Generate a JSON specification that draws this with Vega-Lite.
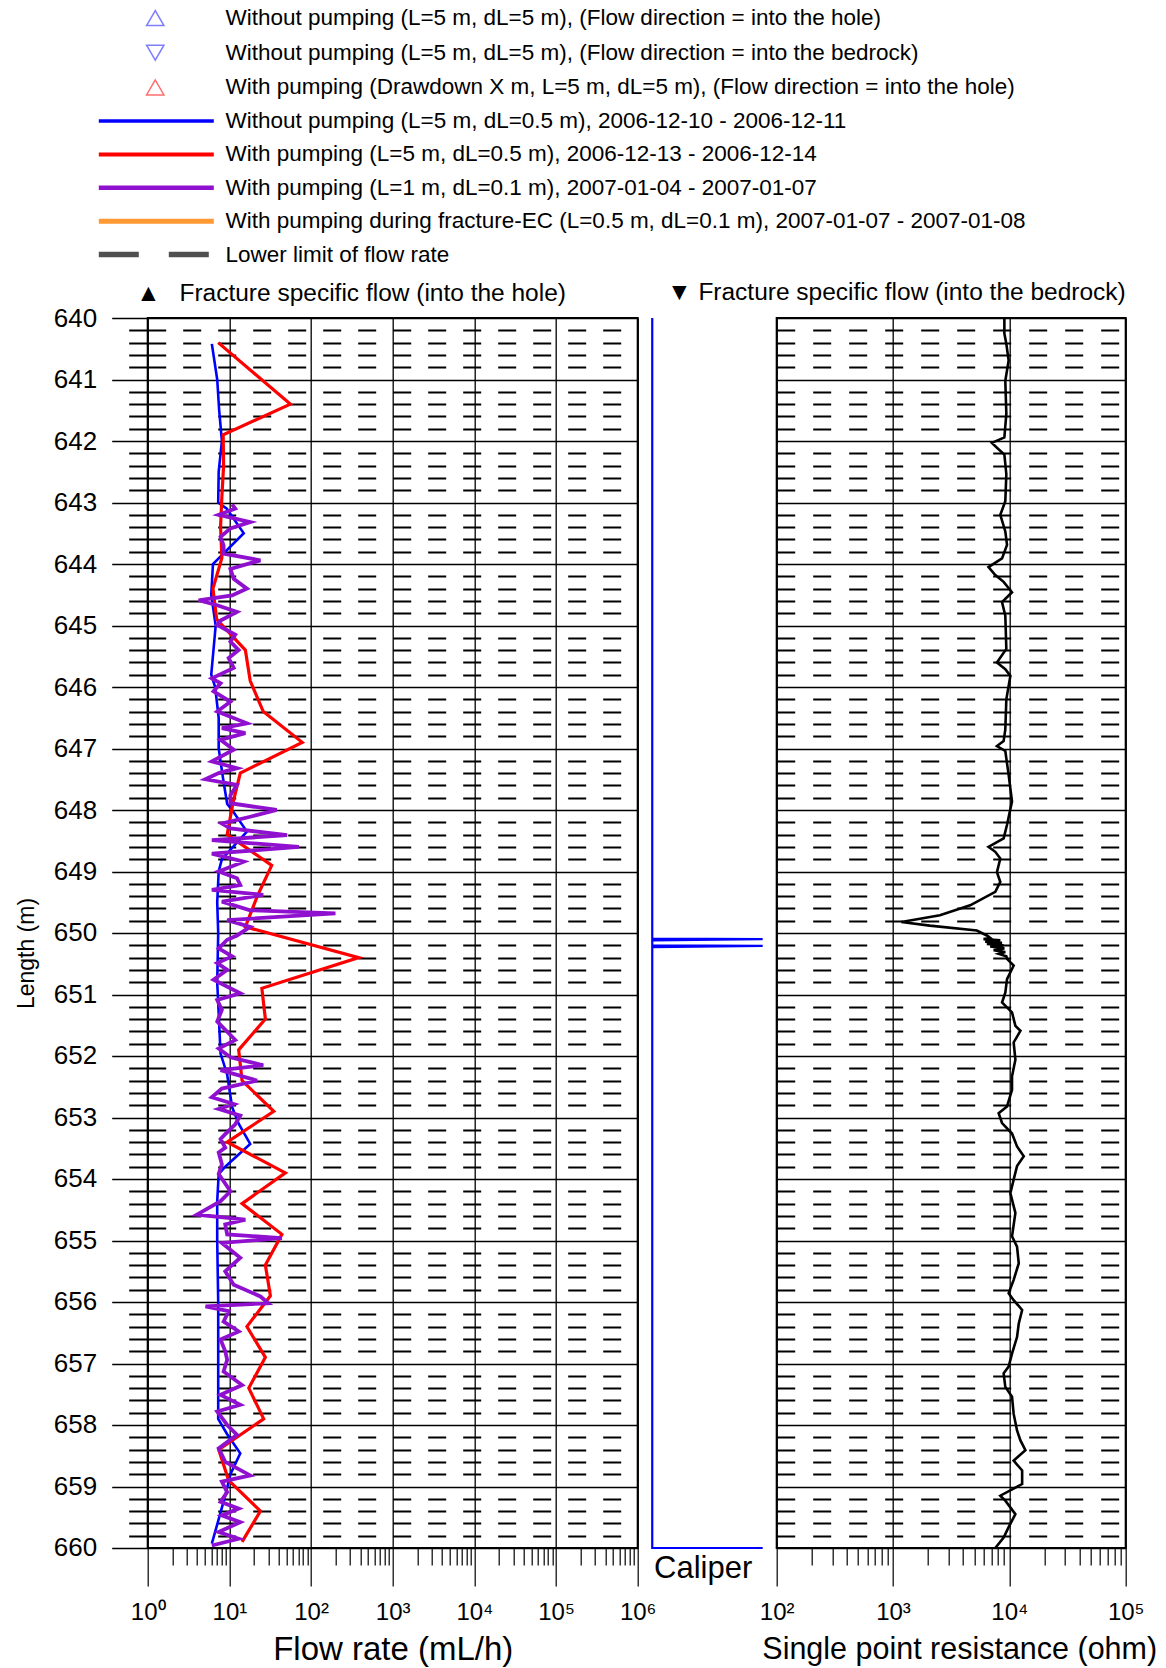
{
"$schema": "https://vega.github.io/schema/vega-lite/v6.json",
"background": "white",
"padding": {"left": 13.7, "top": 7, "right": 5, "bottom": 5},
"config": {"font": "Liberation Sans", "view": {"stroke": "black", "strokeWidth": 2}, "axis": {"labelColor": "black", "titleColor": "black", "tickColor": "black", "domainColor": "black"}, "title": {"color": "black"}},
"datasets": {
"flow": [
{"s":"np","d":640.42,"v":6.1},{"s":"np","d":641.0,"v":7.1},{"s":"np","d":641.5,"v":7.5},{"s":"np","d":642.0,"v":8.1},{"s":"np","d":642.5,"v":7.4},{"s":"np","d":643.0,"v":7.3},{"s":"np","d":643.1,"v":9.3},{"s":"np","d":643.5,"v":15},{"s":"np","d":644.0,"v":6.3},{"s":"np","d":644.5,"v":6.0},{"s":"np","d":645.0,"v":6.8},{"s":"np","d":645.8,"v":6.0},{"s":"np","d":646.0,"v":6.7},{"s":"np","d":646.5,"v":7.4},{"s":"np","d":647.0,"v":7.4},{"s":"np","d":647.5,"v":8.4},{"s":"np","d":647.9,"v":9.4},{"s":"np","d":648.0,"v":10.8},{"s":"np","d":648.35,"v":16.4},{"s":"np","d":648.8,"v":8.1},{"s":"np","d":649.0,"v":7.4},{"s":"np","d":649.5,"v":7.1},{"s":"np","d":650.0,"v":7.3},{"s":"np","d":650.8,"v":7.1},{"s":"np","d":651.96,"v":7.8},{"s":"np","d":652.3,"v":9.4},{"s":"np","d":652.83,"v":10.8},{"s":"np","d":653.1,"v":13},{"s":"np","d":653.43,"v":18},{"s":"np","d":653.8,"v":8.9},{"s":"np","d":653.92,"v":7.4},{"s":"np","d":654.36,"v":7.1},{"s":"np","d":655.0,"v":7.1},{"s":"np","d":656.0,"v":7.3},{"s":"np","d":657.9,"v":7.3},{"s":"np","d":658.15,"v":9.4},{"s":"np","d":658.46,"v":13.6},{"s":"np","d":658.8,"v":10.3},{"s":"np","d":659.15,"v":8.9},{"s":"np","d":659.93,"v":6.1},
{"s":"wp","d":640.4,"v":7.3},{"s":"wp","d":641.4,"v":55.8},{"s":"wp","d":641.9,"v":8.4},{"s":"wp","d":642.4,"v":8.5},{"s":"wp","d":642.9,"v":8.1},{"s":"wp","d":643.4,"v":7.8},{"s":"wp","d":643.9,"v":8.1},{"s":"wp","d":644.4,"v":6.3},{"s":"wp","d":644.9,"v":7.0},{"s":"wp","d":645.4,"v":15.7},{"s":"wp","d":645.9,"v":18},{"s":"wp","d":646.4,"v":26},{"s":"wp","d":646.9,"v":78},{"s":"wp","d":647.4,"v":13.6},{"s":"wp","d":647.9,"v":11},{"s":"wp","d":648.4,"v":9.4},{"s":"wp","d":648.9,"v":33},{"s":"wp","d":649.4,"v":22},{"s":"wp","d":649.9,"v":15.7},{"s":"wp","d":650.4,"v":384},{"s":"wp","d":650.9,"v":25},{"s":"wp","d":651.4,"v":27.6},{"s":"wp","d":651.9,"v":13},{"s":"wp","d":652.4,"v":14.3},{"s":"wp","d":652.9,"v":35},{"s":"wp","d":653.4,"v":9.4},{"s":"wp","d":653.9,"v":48.5},{"s":"wp","d":654.4,"v":14.3},{"s":"wp","d":654.9,"v":44},{"s":"wp","d":655.4,"v":27.6},{"s":"wp","d":655.9,"v":31.8},{"s":"wp","d":656.4,"v":16.4},{"s":"wp","d":656.9,"v":27.6},{"s":"wp","d":657.4,"v":17.3},{"s":"wp","d":657.9,"v":26.3},{"s":"wp","d":658.4,"v":7.4},{"s":"wp","d":658.9,"v":9.8},{"s":"wp","d":659.4,"v":24},{"s":"wp","d":659.9,"v":14.3},
{"s":"wp1","d":643.03,"v":10.8},{"s":"wp1","d":643.1,"v":11.8},{"s":"wp1","d":643.2,"v":7.4},{"s":"wp1","d":643.32,"v":18},{"s":"wp1","d":643.42,"v":10.3},{"s":"wp1","d":643.56,"v":7.8},{"s":"wp1","d":643.7,"v":8.5},{"s":"wp1","d":643.83,"v":8.5},{"s":"wp1","d":643.94,"v":24},{"s":"wp1","d":644.08,"v":10.3},{"s":"wp1","d":644.24,"v":11.3},{"s":"wp1","d":644.4,"v":16.4},{"s":"wp1","d":644.51,"v":10.8},{"s":"wp1","d":644.59,"v":4.2},{"s":"wp1","d":644.67,"v":7.1},{"s":"wp1","d":644.78,"v":12.4},{"s":"wp1","d":644.92,"v":7.8},{"s":"wp1","d":644.99,"v":7.1},{"s":"wp1","d":645.15,"v":11.8},{"s":"wp1","d":645.26,"v":10.3},{"s":"wp1","d":645.4,"v":13},{"s":"wp1","d":645.53,"v":9.8},{"s":"wp1","d":645.69,"v":11.3},{"s":"wp1","d":645.86,"v":6.1},{"s":"wp1","d":645.94,"v":7.8},{"s":"wp1","d":646.07,"v":6.4},{"s":"wp1","d":646.24,"v":10.3},{"s":"wp1","d":646.4,"v":7.1},{"s":"wp1","d":646.59,"v":16.4},{"s":"wp1","d":646.67,"v":8.1},{"s":"wp1","d":646.75,"v":15.7},{"s":"wp1","d":646.86,"v":7.8},{"s":"wp1","d":647.02,"v":11.3},{"s":"wp1","d":647.21,"v":6.1},{"s":"wp1","d":647.32,"v":12.4},{"s":"wp1","d":647.4,"v":7.4},{"s":"wp1","d":647.5,"v":5.1},{"s":"wp1","d":647.59,"v":12.4},{"s":"wp1","d":647.76,"v":10.3},{"s":"wp1","d":647.89,"v":10.3},{"s":"wp1","d":648.0,"v":38},{"s":"wp1","d":648.11,"v":18},{"s":"wp1","d":648.22,"v":8.1},{"s":"wp1","d":648.3,"v":10.3},{"s":"wp1","d":648.41,"v":51},{"s":"wp1","d":648.49,"v":6.1},{"s":"wp1","d":648.6,"v":71},{"s":"wp1","d":648.71,"v":6.1},{"s":"wp1","d":648.84,"v":15},{"s":"wp1","d":649.0,"v":7.4},{"s":"wp1","d":649.11,"v":12.4},{"s":"wp1","d":649.22,"v":13.6},{"s":"wp1","d":649.3,"v":6.1},{"s":"wp1","d":649.38,"v":26},{"s":"wp1","d":649.49,"v":8.1},{"s":"wp1","d":649.63,"v":18},{"s":"wp1","d":649.68,"v":199},{"s":"wp1","d":649.79,"v":9.4},{"s":"wp1","d":649.9,"v":18},{"s":"wp1","d":650.04,"v":12.4},{"s":"wp1","d":650.11,"v":9.4},{"s":"wp1","d":650.25,"v":7.4},{"s":"wp1","d":650.38,"v":10.8},{"s":"wp1","d":650.49,"v":7.1},{"s":"wp1","d":650.6,"v":9.4},{"s":"wp1","d":650.76,"v":6.4},{"s":"wp1","d":650.98,"v":13.6},{"s":"wp1","d":651.09,"v":7.1},{"s":"wp1","d":651.25,"v":8.1},{"s":"wp1","d":651.44,"v":7.1},{"s":"wp1","d":651.74,"v":11.8},{"s":"wp1","d":651.88,"v":7.4},{"s":"wp1","d":652.02,"v":10.3},{"s":"wp1","d":652.15,"v":26},{"s":"wp1","d":652.23,"v":7.8},{"s":"wp1","d":652.4,"v":21.8},{"s":"wp1","d":652.53,"v":8.1},{"s":"wp1","d":652.67,"v":6.1},{"s":"wp1","d":652.78,"v":11.3},{"s":"wp1","d":652.86,"v":7.4},{"s":"wp1","d":652.97,"v":13.6},{"s":"wp1","d":653.11,"v":11.8},{"s":"wp1","d":653.27,"v":8.9},{"s":"wp1","d":653.35,"v":7.8},{"s":"wp1","d":653.49,"v":8.9},{"s":"wp1","d":653.57,"v":7.4},{"s":"wp1","d":653.76,"v":8.1},{"s":"wp1","d":653.92,"v":7.4},{"s":"wp1","d":654.2,"v":10.3},{"s":"wp1","d":654.36,"v":7.8},{"s":"wp1","d":654.58,"v":4.0},{"s":"wp1","d":654.66,"v":15.7},{"s":"wp1","d":654.74,"v":8.9},{"s":"wp1","d":654.9,"v":9.4},{"s":"wp1","d":654.96,"v":44},{"s":"wp1","d":655.04,"v":8.1},{"s":"wp1","d":655.28,"v":13.6},{"s":"wp1","d":655.5,"v":8.9},{"s":"wp1","d":655.72,"v":11.3},{"s":"wp1","d":655.91,"v":24},{"s":"wp1","d":656.02,"v":30},{"s":"wp1","d":656.07,"v":5.1},{"s":"wp1","d":656.15,"v":9.8},{"s":"wp1","d":656.32,"v":8.5},{"s":"wp1","d":656.48,"v":13},{"s":"wp1","d":656.61,"v":7.8},{"s":"wp1","d":656.8,"v":8.9},{"s":"wp1","d":656.94,"v":9.4},{"s":"wp1","d":657.13,"v":8.5},{"s":"wp1","d":657.35,"v":14.3},{"s":"wp1","d":657.51,"v":7.8},{"s":"wp1","d":657.67,"v":13.6},{"s":"wp1","d":657.78,"v":7.1},{"s":"wp1","d":658.0,"v":9.4},{"s":"wp1","d":658.16,"v":12.4},{"s":"wp1","d":658.38,"v":7.4},{"s":"wp1","d":658.6,"v":8.9},{"s":"wp1","d":658.82,"v":18},{"s":"wp1","d":658.92,"v":8.1},{"s":"wp1","d":659.09,"v":9.4},{"s":"wp1","d":659.25,"v":7.8},{"s":"wp1","d":659.36,"v":13},{"s":"wp1","d":659.47,"v":8.1},{"s":"wp1","d":659.58,"v":13.6},{"s":"wp1","d":659.74,"v":7.4},{"s":"wp1","d":659.85,"v":13},{"s":"wp1","d":659.96,"v":6.1}
],
"caliper": [
{"i":1,"d":640.0,"c":0.005},{"i":2,"d":650.09,"c":0.005},{"i":3,"d":650.1,"c":1},{"i":4,"d":650.12,"c":0.005},{"i":5,"d":650.2,"c":0.005},{"i":6,"d":650.21,"c":1},{"i":7,"d":650.23,"c":0.005},{"i":8,"d":660.0,"c":0.005},{"i":9,"d":660.0,"c":1}
],
"spr": [
{"d":640.01,"r":9060},{"d":640.25,"r":9060},{"d":640.42,"r":9420},{"d":640.69,"r":9860},{"d":641.02,"r":9230},{"d":641.56,"r":9420},{"d":641.94,"r":9060},{"d":642.03,"r":7080},{"d":642.11,"r":7820},{"d":642.22,"r":9060},{"d":642.54,"r":9420},{"d":642.98,"r":9230},{"d":643.2,"r":8360},{"d":643.47,"r":9230},{"d":643.69,"r":9550},{"d":643.91,"r":8650},{"d":644.05,"r":6620},{"d":644.18,"r":7570},{"d":644.29,"r":8930},{"d":644.46,"r":10540},{"d":644.62,"r":8650},{"d":644.84,"r":9230},{"d":645.38,"r":9420},{"d":645.6,"r":7820},{"d":645.71,"r":9230},{"d":645.82,"r":10200},{"d":646.2,"r":9420},{"d":646.69,"r":9230},{"d":646.88,"r":8930},{"d":646.96,"r":7820},{"d":647.04,"r":9230},{"d":647.43,"r":9860},{"d":647.86,"r":10540},{"d":648.24,"r":9550},{"d":648.46,"r":8930},{"d":648.6,"r":6620},{"d":648.68,"r":7570},{"d":648.79,"r":8360},{"d":649.01,"r":7820},{"d":649.17,"r":8360},{"d":649.33,"r":7570},{"d":649.55,"r":4600},{"d":649.71,"r":2530},{"d":649.82,"r":1180},{"d":649.88,"r":2070},{"d":649.96,"r":5250},{"d":650.04,"r":6410},{"d":650.08,"r":6850},{"d":650.1,"r":6000},{"d":650.12,"r":8360},{"d":650.14,"r":6200},{"d":650.16,"r":8650},{"d":650.18,"r":6410},{"d":650.2,"r":8930},{"d":650.22,"r":6850},{"d":650.25,"r":9060},{"d":650.28,"r":7320},{"d":650.31,"r":9230},{"d":650.34,"r":8100},{"d":650.38,"r":9420},{"d":650.42,"r":9550},{"d":650.53,"r":10890},{"d":650.75,"r":9550},{"d":650.97,"r":9230},{"d":651.13,"r":8650},{"d":651.29,"r":10540},{"d":651.51,"r":11270},{"d":651.59,"r":12450},{"d":651.78,"r":10890},{"d":652.06,"r":11270},{"d":652.33,"r":10540},{"d":652.55,"r":10540},{"d":652.82,"r":9550},{"d":652.93,"r":8090},{"d":653.09,"r":8650},{"d":653.26,"r":10540},{"d":653.47,"r":11640},{"d":653.63,"r":13300},{"d":653.79,"r":11640},{"d":654.01,"r":10890},{"d":654.23,"r":10200},{"d":654.55,"r":11270},{"d":654.93,"r":10540},{"d":655.1,"r":11640},{"d":655.37,"r":12050},{"d":655.64,"r":10890},{"d":655.86,"r":9860},{"d":655.97,"r":10890},{"d":656.13,"r":12880},{"d":656.35,"r":12050},{"d":656.57,"r":11640},{"d":656.84,"r":10540},{"d":657.05,"r":9860},{"d":657.16,"r":8930},{"d":657.38,"r":9230},{"d":657.54,"r":10540},{"d":657.82,"r":10890},{"d":658.09,"r":11640},{"d":658.25,"r":12450},{"d":658.41,"r":13740},{"d":658.58,"r":10890},{"d":658.74,"r":12880},{"d":658.96,"r":12880},{"d":659.15,"r":8360},{"d":659.23,"r":9230},{"d":659.45,"r":11270},{"d":659.66,"r":9860},{"d":659.83,"r":8930},{"d":660.0,"r":7570}
]
},
"bounds": "flush",
"spacing": 14,
"resolve": {"scale": {"stroke": "independent", "strokeWidth": "independent", "strokeDash": "independent", "color": "independent", "shape": "independent"}},
"hconcat": [
{
"width": 490, "height": 1230,
"title": {"text": "▲\u2002 Fracture specific flow (into the hole)", "anchor": "start", "frame": "group", "fontSize": 24.5, "fontWeight": "normal", "dx": -11.5, "offset": -1.5},
"resolve": {"axis": {"x": "independent"}},
"layer": [
{
"data": {"name": "flow"},
"mark": {"type": "line", "clip": true},
"encoding": {
"y": {"field": "d", "type": "quantitative", "scale": {"domain": [640, 660], "reverse": true, "nice": false, "zero": false},
"axis": {"values": [640,640.2,640.4,640.6,640.8,641,641.2,641.4,641.6,641.8,642,642.2,642.4,642.6,642.8,643,643.2,643.4,643.6,643.8,644,644.2,644.4,644.6,644.8,645,645.2,645.4,645.6,645.8,646,646.2,646.4,646.6,646.8,647,647.2,647.4,647.6,647.8,648,648.2,648.4,648.6,648.8,649,649.2,649.4,649.6,649.8,650,650.2,650.4,650.6,650.8,651,651.2,651.4,651.6,651.8,652,652.2,652.4,652.6,652.8,653,653.2,653.4,653.6,653.8,654,654.2,654.4,654.6,654.8,655,655.2,655.4,655.6,655.8,656,656.2,656.4,656.6,656.8,657,657.2,657.4,657.6,657.8,658,658.2,658.4,658.6,658.8,659,659.2,659.4,659.6,659.8,660],
"labelExpr": "datum.value % 1 == 0 ? format(datum.value, 'd') : ''",
"labelOverlap": false, "labelFontSize": 26, "labelPadding": 15,
"tickSize": {"condition": {"test": "datum.value % 1 == 0", "value": 36}, "value": 19},
"tickWidth": {"condition": {"test": "datum.value % 1 == 0", "value": 1.3}, "value": 2},
"grid": true, "gridColor": "black",
"gridDash": {"condition": {"test": "datum.value % 1 == 0", "value": [1, 0]}, "value": [18, 17]},
"gridWidth": {"condition": {"test": "datum.value % 1 == 0", "value": 1.3}, "value": 2},
"domain": false,
"title": "Length (m)", "titleFontSize": 23, "titleFontWeight": "normal", "titlePadding": 15, "titleY": 635}},
"x": {"field": "v", "type": "quantitative", "scale": {"type": "log", "domain": [1, 1000000], "nice": false},
"axis": {"orient": "bottom", "values": [1,2,3,4,5,6,7,8,9,10,20,30,40,50,60,70,80,90,100,200,300,400,500,600,700,800,900,1000,2000,3000,4000,5000,6000,7000,8000,9000,10000,20000,30000,40000,50000,60000,70000,80000,90000,100000,200000,300000,400000,500000,600000,700000,800000,900000,1000000],
"labelExpr": "abs(log(datum.value)/LN10 - round(log(datum.value)/LN10)) < 0.001 ? '10' + ['⁰','¹','²','³','⁴','⁵','⁶'][round(log(datum.value)/LN10)] : ''",
"labelFlush": false, "labelOverlap": false, "labelFontSize": 24, "labelPadding": 15,
"tickSize": {"condition": {"test": "abs(log(datum.value)/LN10 - round(log(datum.value)/LN10)) < 0.001", "value": 38}, "value": 17},
"tickWidth": 1.2,
"grid": false,
"domain": false,
"title": "Flow rate (mL/h)", "titleFontSize": 33, "titleFontWeight": "normal", "titlePadding": 9}},
"order": {"field": "d", "type": "quantitative"},
"stroke": {"field": "s", "type": "nominal", "scale": {"domain": ["np", "wp", "wp1"], "range": ["#0000ff", "#ff0000", "#9010d0"]}, "legend": null},
"strokeWidth": {"field": "s", "type": "nominal", "scale": {"type": "point", "domain": ["np", "wp", "wp1"], "range": [2.6, 3.8], "padding": 0}, "legend": null}
}
},
{
"data": {"name": "flow"},
"transform": [{"filter": "false"}],
"mark": {"type": "line"},
"encoding": {
"x": {"field": "v", "type": "quantitative",
"axis": {"orient": "bottom", "values": [1, 10, 100, 1000, 10000, 100000, 1000000], "grid": true, "gridColor": "black", "gridWidth": 1.3, "ticks": false, "labels": false, "domain": false, "title": null}}
}
}
]
},
{
"width": 111, "height": 1230,
"view": {"stroke": null},
"layer": [
{
"data": {"name": "caliper"},
"mark": {"type": "line", "color": "#0000ff", "strokeWidth": 2.2},
"encoding": {
"y": {"field": "d", "type": "quantitative", "scale": {"domain": [640, 660], "reverse": true, "nice": false, "zero": false}, "axis": null},
"x": {"field": "c", "type": "quantitative", "scale": {"domain": [0, 1], "nice": false}, "axis": {"ticks": false, "labels": false, "domain": false, "grid": false, "title": "Caliper", "titleFontSize": 31, "titleFontWeight": "normal", "titlePadding": 6, "titleX": 51, "titleAlign": "center"}},
"order": {"field": "i", "type": "quantitative"}
}
},
{
"data": {"name": "flow"},
"transform": [{"filter": "false"}],
"mark": {"type": "line"},
"encoding": {
"stroke": {"field": "s", "type": "nominal",
"scale": {"domain": ["np", "wp", "wp1", "ec", "ll"], "range": ["#0000ff", "#ff0000", "#9010d0", "#ff9933", "#505050"]},
"legend": {"orient": "none", "legendX": -555.9, "legendY": -208, "title": null, "direction": "vertical", "padding": 0,
"symbolType": "stroke", "symbolSize": 13225, "clipHeight": 22, "rowPadding": 10.4,
"labelFontSize": 22.5, "labelColor": "black", "labelOffset": 8.8, "labelLimit": 1200,
"labelExpr": "datum.value == 'np' ? 'Without pumping (L=5 m, dL=0.5 m), 2006-12-10 - 2006-12-11' : datum.value == 'wp' ? 'With pumping (L=5 m, dL=0.5 m), 2006-12-13 - 2006-12-14' : datum.value == 'wp1' ? 'With pumping (L=1 m, dL=0.1 m), 2007-01-04 - 2007-01-07' : datum.value == 'ec' ? 'With pumping during fracture-EC (L=0.5 m, dL=0.1 m), 2007-01-07 - 2007-01-08' : 'Lower limit of flow rate'"}},
"strokeWidth": {"field": "s", "type": "nominal", "scale": {"type": "point", "domain": ["np", "wp", "wp1", "ec", "ll"], "range": [3.5, 5.5], "padding": 0}},
"strokeDash": {"field": "s", "type": "nominal", "scale": {"domain": ["np", "wp", "wp1", "ec", "ll"], "range": [[1, 0], [1, 0], [1, 0], [1, 0], [40, 30]]}}
}
},
{
"data": {"name": "flow"},
"transform": [{"filter": "false"}],
"mark": {"type": "point", "filled": false, "strokeWidth": 1.5},
"encoding": {
"color": {"field": "s", "type": "nominal",
"scale": {"domain": ["t1", "t2", "t3"], "range": ["#4848ff", "#4848ff", "#ff3030"]},
"legend": {"orient": "none", "legendX": -507.7, "legendY": -311, "title": null, "direction": "vertical", "padding": 0,
"symbolSize": 300, "symbolStrokeWidth": 1.5, "symbolFillColor": "transparent", "clipHeight": 22, "rowPadding": 11.7,
"labelFontSize": 22.5, "labelColor": "black", "labelOffset": 59, "labelLimit": 1200,
"labelExpr": "datum.value == 't1' ? 'Without pumping (L=5 m, dL=5 m), (Flow direction = into the hole)' : datum.value == 't2' ? 'Without pumping (L=5 m, dL=5 m), (Flow direction = into the bedrock)' : 'With pumping (Drawdown X m, L=5 m, dL=5 m), (Flow direction = into the hole)'"}},
"shape": {"field": "s", "type": "nominal", "scale": {"domain": ["t1", "t2", "t3"], "range": ["triangle-up", "triangle-down", "triangle-up"]}}
}
}
]
},
{
"width": 349, "height": 1230,
"title": {"text": "▼ Fracture specific flow (into the bedrock)", "anchor": "end", "frame": "group", "fontSize": 24.5, "fontWeight": "normal", "offset": 8},
"resolve": {"axis": {"x": "independent", "y": "independent"}},
"layer": [
{
"data": {"name": "spr"},
"mark": {"type": "line", "color": "black", "strokeWidth": 2.6},
"encoding": {
"y": {"field": "d", "type": "quantitative", "scale": {"domain": [640, 660], "reverse": true, "nice": false, "zero": false},
"axis": {"orient": "left", "values": [640,641,642,643,644,645,646,647,648,649,650,651,652,653,654,655,656,657,658,659,660],
"labels": false, "ticks": false, "domain": false, "title": null,
"grid": true, "gridColor": "black", "gridWidth": 1.3}},
"x": {"field": "r", "type": "quantitative", "scale": {"type": "log", "domain": [100, 100000], "nice": false},
"axis": {"orient": "bottom", "values": [100,200,300,400,500,600,700,800,900,1000,2000,3000,4000,5000,6000,7000,8000,9000,10000,20000,30000,40000,50000,60000,70000,80000,90000,100000],
"labelExpr": "abs(log(datum.value)/LN10 - round(log(datum.value)/LN10)) < 0.001 ? '10' + ['⁰','¹','²','³','⁴','⁵','⁶'][round(log(datum.value)/LN10)] : ''",
"labelFlush": false, "labelOverlap": false, "labelFontSize": 24, "labelPadding": 15,
"tickSize": {"condition": {"test": "abs(log(datum.value)/LN10 - round(log(datum.value)/LN10)) < 0.001", "value": 38}, "value": 17},
"tickWidth": 1.2,
"grid": false,
"domain": false,
"title": "Single point resistance (ohm)", "titleFontSize": 30.5, "titleFontWeight": "normal", "titlePadding": 10, "titleX": 182.5, "titleAlign": "center"}},
"order": {"field": "d", "type": "quantitative"}
}
},
{
"data": {"name": "spr"},
"transform": [{"filter": "false"}],
"mark": {"type": "line"},
"encoding": {
"x": {"field": "r", "type": "quantitative",
"axis": {"orient": "bottom", "values": [100, 1000, 10000, 100000], "grid": true, "gridColor": "black", "gridWidth": 1.3, "ticks": false, "labels": false, "domain": false, "title": null}},
"y": {"field": "d", "type": "quantitative",
"axis": {"orient": "left", "values": [640.2,640.4,640.6,640.8,641.2,641.4,641.6,641.8,642.2,642.4,642.6,642.8,643.2,643.4,643.6,643.8,644.2,644.4,644.6,644.8,645.2,645.4,645.6,645.8,646.2,646.4,646.6,646.8,647.2,647.4,647.6,647.8,648.2,648.4,648.6,648.8,649.2,649.4,649.6,649.8,650.2,650.4,650.6,650.8,651.2,651.4,651.6,651.8,652.2,652.4,652.6,652.8,653.2,653.4,653.6,653.8,654.2,654.4,654.6,654.8,655.2,655.4,655.6,655.8,656.2,656.4,656.6,656.8,657.2,657.4,657.6,657.8,658.2,658.4,658.6,658.8,659.2,659.4,659.6,659.8],
"grid": true, "gridColor": "black", "gridWidth": 2, "gridDash": [18, 18], "ticks": false, "labels": false, "domain": false, "title": null}}
}
}
]
}
]
}
